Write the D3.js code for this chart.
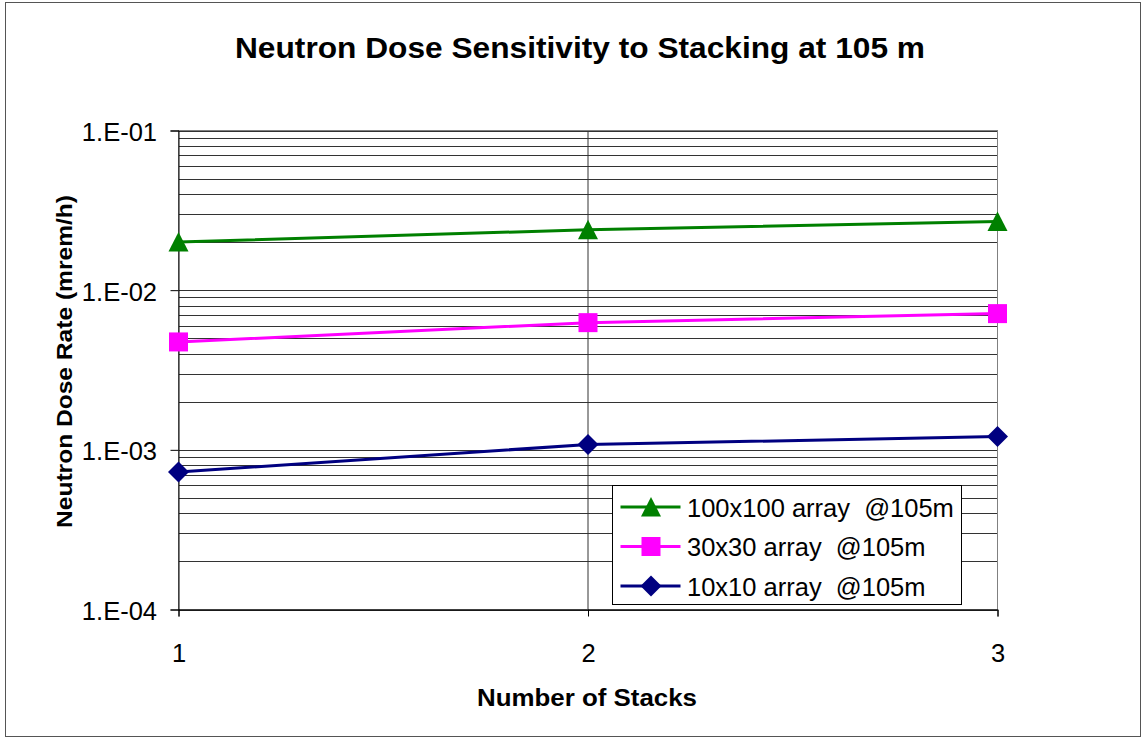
<!DOCTYPE html>
<html><head><meta charset="utf-8">
<script src="https://cdn.jsdelivr.net/npm/d3@7"></script>
<style>body{margin:0;background:#fff}svg{display:block}text{font-family:"Liberation Sans",Arial,sans-serif}</style>
</head><body>
<svg id="c" width="1146" height="740"></svg>
<script>
const stacks = [1, 2, 3];
const seriesNames = ["100x100 array  @105m", "30x30 array  @105m", "10x10 array  @105m"];
const s100 = [0.0200, 0.0239, 0.0269];
const s30 = [0.00474, 0.00626, 0.00713];
const s10 = [0.000726, 0.00108, 0.00121];
const yTicks = [1e-4, 1e-3, 1e-2, 1e-1];
const yTickLabels = ["1.E-04", "1.E-03", "1.E-02", "1.E-01"];
const colors = ["#008000", "#ff00ff", "#000080"];
const symbols = ["triangle", "square", "diamond"];

const svg = d3.select("#c");
svg.append("rect").attr("x",5.5).attr("y",2.5).attr("width",1135).attr("height",734)
  .attr("fill","#fff").attr("stroke","#555").attr("stroke-width",1);

const L=178.5, R=997.5, T=130.5, B=609.5;
const x = d3.scaleLinear().domain([1,3]).range([L,R]);
const y = d3.scaleLog().domain([1e-4,1e-1]).range([B,T]);

const grid = [];
for (let e=-4; e<-1; e++) for (let m=1; m<=9; m++) grid.push(m*Math.pow(10,e));
grid.push(1e-1);
svg.append("g").selectAll("line").data(grid).join("line")
  .attr("x1",L).attr("x2",R).attr("y1",d=>Math.round(y(d))+0.5).attr("y2",d=>Math.round(y(d))+0.5)
  .attr("stroke","#333").attr("stroke-width",1);
svg.append("g").selectAll("line").data([2]).join("line")
  .attr("x1",d=>x(d)).attr("x2",d=>x(d)).attr("y1",T).attr("y2",B)
  .attr("stroke","#333");
svg.append("rect").attr("x",L).attr("y",T).attr("width",R-L).attr("height",B-T)
  .attr("fill","none").attr("stroke","#808080");

const yAxis = d3.axisLeft(y).tickValues(yTicks).tickFormat((d,i)=>yTickLabels[i]).tickSize(8).tickPadding(13.5);
const gy = svg.append("g").attr("transform",`translate(${L},0)`).call(yAxis);
gy.select(".domain").attr("stroke","#000");
gy.selectAll("line").attr("stroke","#000");
gy.selectAll("text").attr("font-size",25.5).attr("fill","#000").attr("dy","10")
  .attr("font-family","Liberation Sans, Arial");

const xAxis = d3.axisBottom(x).tickValues(stacks).tickFormat(d3.format("d")).tickSize(7).tickPadding(27);
const gx = svg.append("g").attr("transform",`translate(0,${B})`).call(xAxis);
gx.select(".domain").attr("stroke","#000");
gx.selectAll("line").attr("stroke","#000");
gx.selectAll("text").attr("font-size",25.5).attr("fill","#000").attr("font-family","Liberation Sans, Arial");

function marker(type){
  const p = d3.path();
  if (type==="triangle"){ p.moveTo(0,-10); p.lineTo(10,9.5); p.lineTo(-10,9.5); p.closePath(); }
  else if (type==="square"){ p.rect(-9.5,-9.5,19,19); }
  else { p.moveTo(0,-10.5); p.lineTo(10.5,0); p.lineTo(0,10.5); p.lineTo(-10.5,0); p.closePath(); }
  return p.toString();
}

const data = [s100, s30, s10];
const line = d3.line().x((d,i)=>x(stacks[i])).y(d=>y(d));
data.forEach((vals,k)=>{
  svg.append("path").datum(vals).attr("d",line).attr("fill","none")
    .attr("stroke",colors[k]).attr("stroke-width",3);
  svg.append("g").selectAll("path").data(vals).join("path")
    .attr("d",marker(symbols[k]))
    .attr("transform",(d,i)=>`translate(${x(stacks[i])},${y(d)})`)
    .attr("fill",colors[k]);
});

const lg = svg.append("g").attr("transform","translate(612.5,485.5)");
lg.append("rect").attr("width",349).attr("height",119).attr("fill","#fff").attr("stroke","#000");
seriesNames.forEach((n,k)=>{
  const cy = 21.5 + k*39.5;
  lg.append("line").attr("x1",8).attr("x2",68).attr("y1",cy).attr("y2",cy)
    .attr("stroke",colors[k]).attr("stroke-width",3);
  lg.append("path").attr("d",marker(symbols[k]))
    .attr("transform",`translate(38.5,${cy})`).attr("fill",colors[k]);
  lg.append("text").attr("x",74.5).attr("y",cy+9.5).attr("font-size",25.5).attr("fill","#000")
    .style("white-space","pre").text(n);
});

svg.append("text").attr("x",235).attr("y",57.5)
  .attr("font-size",30).attr("font-weight","bold")
  .attr("textLength",690).attr("lengthAdjust","spacingAndGlyphs")
  .text("Neutron Dose Sensitivity to Stacking at 105 m");
svg.append("text").attr("x",477).attr("y",705.5)
  .attr("font-size",24).attr("font-weight","bold")
  .attr("textLength",220).attr("lengthAdjust","spacingAndGlyphs")
  .text("Number of Stacks");
svg.append("text").attr("transform","translate(72,528) rotate(-90)")
  .attr("font-size",22).attr("font-weight","bold")
  .attr("textLength",333).attr("lengthAdjust","spacingAndGlyphs")
  .text("Neutron Dose Rate (mrem/h)");
</script>
</body></html>
